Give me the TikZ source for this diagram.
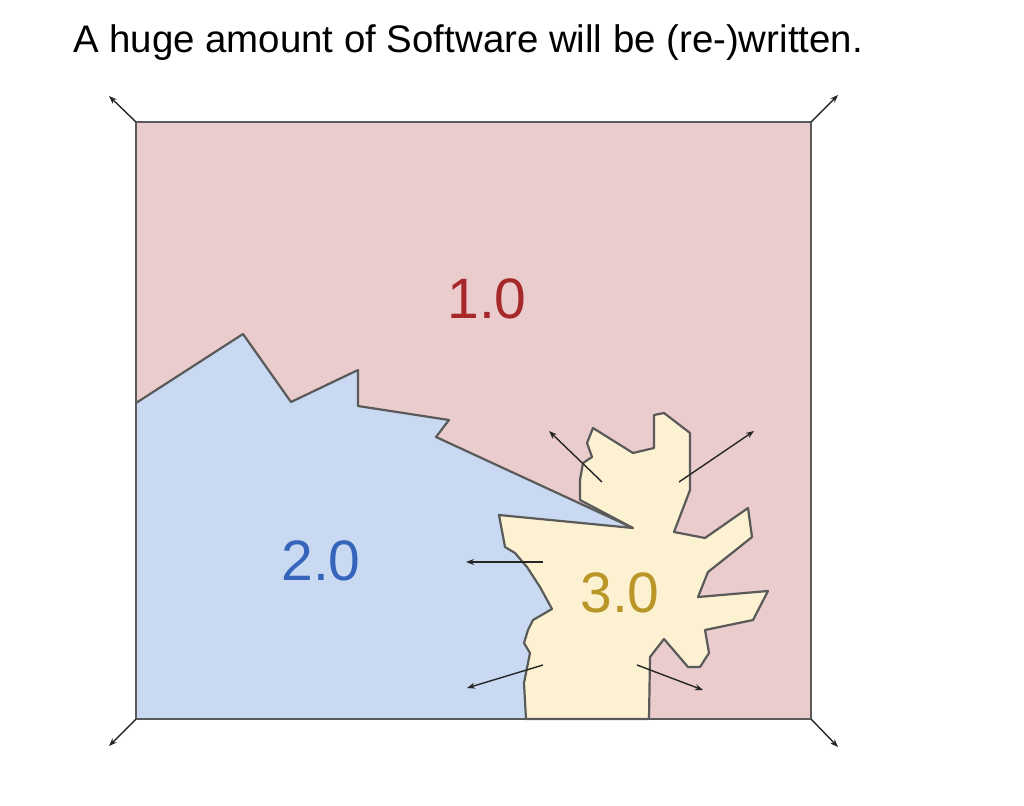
\documentclass[tikz,border=0pt]{standalone}
\usepackage{fontspec}
\setmainfont{Liberation Sans}
\usetikzlibrary{arrows.meta,positioning}
\definecolor{onefill}{RGB}{234,204,204}
\definecolor{twofill}{RGB}{201,217,241}
\definecolor{threefill}{RGB}{252,241,208}
\definecolor{onetext}{RGB}{166,40,42}
\definecolor{twotext}{RGB}{54,100,186}
\definecolor{threetext}{RGB}{186,150,40}
\definecolor{edgegray}{RGB}{90,90,90}

\begin{document}
\begin{tikzpicture}[x=1pt,y=-1pt,>={Stealth[length=8pt,width=6pt]},
                    zone/.style={draw=edgegray,line width=2.2pt,line join=round},
                    spread/.style={->,line width=1.4pt,black!85},
                    ver/.style={font=\fontsize{57}{60}\selectfont,anchor=base,inner sep=0pt}]
    \useasboundingbox (0,0) rectangle (1024,805);
    \node [anchor=base west,inner sep=0pt,font=\fontsize{38.4}{44}\selectfont] (title) at (73,53)
          {A huge amount of Software will be (re-)written.};
    % the whole space of software
    \node [rectangle,fill=onefill,inner sep=0pt,minimum width=675pt,minimum height=597pt]
          (box) at (473.5,420.5) {};
    % 2.0 eating into 1.0
    \fill [twofill] (136,403) -- (243,334) -- (291,402) -- (358,370) -- (358,406) -- (449,420)
          -- (436,437) -- (633,528) -- (580,719) -- (136,719) -- cycle;
    \draw [zone] (136,403) -- (243,334) -- (291,402) -- (358,370) -- (358,406) -- (449,420)
          -- (436,437) -- (633,528);
    % 3.0 growing from below
    \filldraw [zone,fill=threefill] (526,719) -- (524,683) -- (530,653) -- (524,643) -- (528,630)
          -- (533,620) -- (552,609) -- (540,587) -- (527,567) -- (515,553) -- (505,547)
          -- (499,515) -- (633,528) -- (580,500) -- (580,480) -- (583,463) -- (592,457)
          -- (587,443) -- (593,428) -- (633,453) -- (654,448) -- (654,415) -- (664,413)
          -- (690,433) -- (690,490) -- (674,532) -- (705,538) -- (748,508) -- (752,537)
          -- (732,553) -- (708,572) -- (698,597) -- (768,591) -- (753,620) -- (705,630)
          -- (709,653) -- (700,667) -- (688,667) -- (664,639) -- (650,657) -- (649,719) -- cycle;
    \draw [zone] (box.north west) rectangle (box.south east);

    \node [ver,text=onetext]   (v1) at (487,318) {1.0};
    \node [ver,text=twotext]   (v2) at (321,580) {2.0};
    \node [ver,text=threetext] (v3) at (620,612) {3.0};

    % arrow ends
    \coordinate (nw) at (109,96);
    \coordinate (ne) at (838,95);
    \coordinate (sw) at (109,746);
    \coordinate (se) at (838,747);
    \coordinate (a1) at (602,482);  \coordinate (b1) at (549,431);
    \coordinate (a2) at (679,482);  \coordinate (b2) at (754,431);
    \coordinate (a3) at (543,562);  \coordinate (b3) at (466,562);
    \coordinate (a4) at (543,665);  \coordinate (b4) at (467,688);
    \coordinate (a5) at (637,665);  \coordinate (b5) at (703,690);

    \path [spread] (box.north west) edge (nw)
                   (box.north east) edge (ne)
                   (box.south west) edge (sw)
                   (box.south east) edge (se)
                   (a1) edge (b1)
                   (a2) edge (b2)
                   (a3) edge (b3)
                   (a4) edge (b4)
                   (a5) edge (b5);
\end{tikzpicture}
\end{document}
